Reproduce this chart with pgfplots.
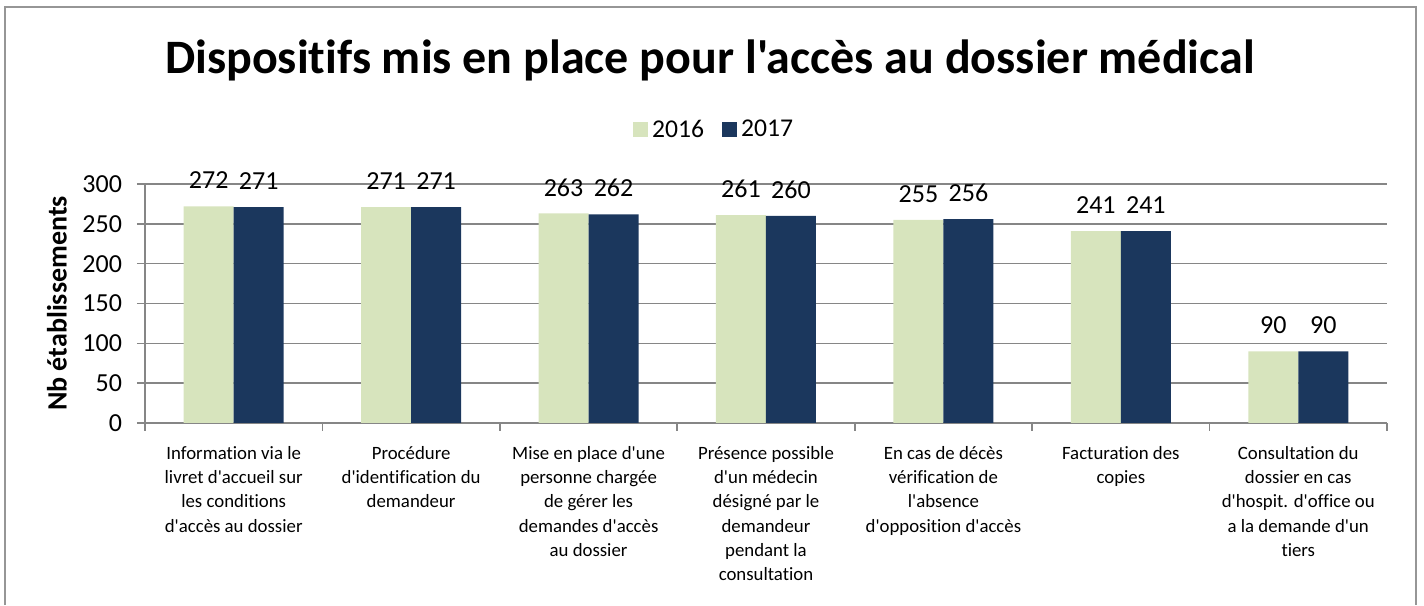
\documentclass[border=0pt]{standalone}
\usepackage{pgfplots}
\pgfplotsset{compat=1.18}
\usepackage{fontspec}
\setmainfont{Carlito}[Ligatures={TeXOff,CommonOff}]
\definecolor{cA}{HTML}{D7E4BD}
\definecolor{cB}{HTML}{1B375D}
\definecolor{gridc}{HTML}{868686}
\definecolor{framec}{HTML}{969696}
\begin{document}
\begin{tikzpicture}[x=1pt,y=1pt]
\useasboundingbox (0,0) rectangle (712,302.5);
\draw[framec,line width=1pt] (2.5,0) -- (2.5,299) -- (708,299) -- (708,0);
\begin{axis}[
  at={(72.5pt,91pt)}, anchor=south west,
  scale only axis, width=621pt, height=119.5pt,
  ybar=0pt, bar width=25pt,
  xmin=-0.5, xmax=6.5, ymin=0, ymax=300,
  ytick={0,50,...,300},
  xtick={0,...,6},
  minor xtick={-0.5,0.5,1.5,2.5,3.5,4.5,5.5,6.5},
  major x tick style={draw=none},
  tick align=outside,
  major tick length=4pt, minor tick length=4pt,
  tick style={gridc, line width=0.8pt},
  axis x line*=bottom, axis y line*=left,
  axis line style={gridc, line width=0.8pt, -},
  ymajorgrids, grid style={gridc, line width=0.8pt},
  xticklabels={
    {Information via le\\livret d'accueil sur\\les conditions\\d'accès au dossier},
    {Procédure\\d'identification du\\demandeur},
    {Mise en place d'une\\personne chargée\\de gérer les\\demandes d'accès\\au dossier},
    {Présence possible\\d'un médecin\\désigné par le\\demandeur\\pendant la\\consultation},
    {En cas de décès\\vérification de\\l'absence\\d'opposition d'accès},
    {Facturation des\\copies},
    {Consultation du\\dossier en cas\\d'hospit. d'office ou\\a la demande d'un\\tiers}},
  xticklabel style={align=center, font=\fontsize{9.4}{12.15}\selectfont, yshift=-4pt},
  yticklabel style={font=\fontsize{13}{15}\selectfont, xshift=-4pt},
  /pgf/number format/assume math mode=true,
  ylabel={Nb établissements},
  every axis y label/.style={at={(axis description cs:-0.0709,0.5)}, rotate=90, anchor=center,
    font=\fontsize{14}{16}\selectfont\bfseries},
  nodes near coords,
  every node near coord/.append style={font=\fontsize{13}{15}\selectfont, anchor=center, yshift=13pt, text=black},
  legend columns=2,
  legend style={at={(0.459,1.226)}, anchor=center, draw=none, font=\fontsize{12.8}{15}\selectfont,
    /tikz/every even column/.append style={column sep=7pt}},
  legend image code/.code={\fill[#1] (0pt,-3.75pt) rectangle (7.5pt,3.75pt);},
]
\addplot[fill=cA, draw=none] coordinates {(0,272) (1,271) (2,263) (3,261) (4,255) (5,241) (6,90)};
\addplot[fill=cB, draw=none] coordinates {(0,271) (1,271) (2,262) (3,260) (4,256) (5,241) (6,90)};
\legend{2016,2017}
\end{axis}
\node[font=\fontsize{24}{28}\bfseries] at (355,272.5) {Dispositifs mis en place pour l'accès au dossier médical};
\end{tikzpicture}
\end{document}
